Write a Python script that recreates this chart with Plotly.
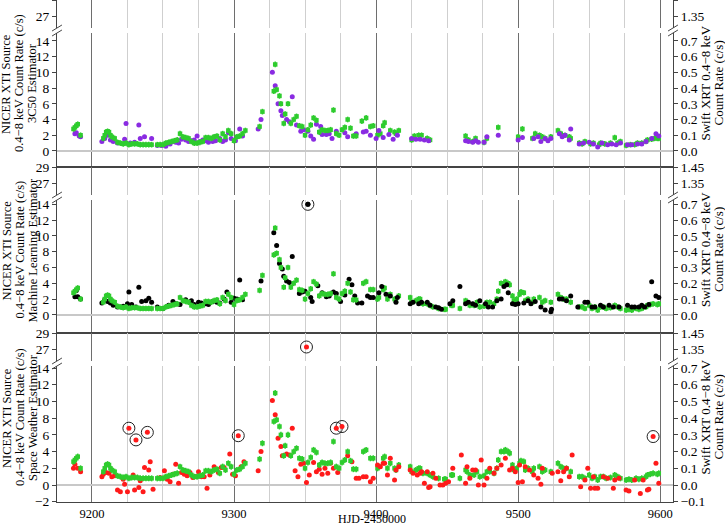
import plotly.graph_objects as go

# ---- data -----------------------------------------------------------------
# Swift XRT (green), read on the right axis (c/s); shared part before HJD 9390
swift_x = [9187, 9188, 9189, 9190, 9192, 9208, 9209, 9210, 9211, 9212, 9213, 9214, 9216, 9218, 9220,
           9222, 9224, 9226, 9228, 9230, 9232, 9234, 9236, 9238, 9240, 9242, 9246, 9248, 9250, 9252,
           9254, 9256, 9258, 9260, 9262, 9264, 9266, 9268, 9270, 9272, 9274, 9276, 9278, 9280, 9282,
           9284, 9286, 9288, 9290, 9292, 9294, 9296, 9298, 9300, 9302, 9304, 9306, 9308, 9318, 9320,
           9328, 9329, 9330, 9332, 9333, 9335, 9336, 9338, 9340, 9342, 9344, 9346, 9348, 9350, 9352,
           9354, 9356, 9358, 9360, 9362, 9364, 9366, 9368, 9370, 9372, 9374, 9376, 9378, 9380, 9382,
           9384, 9386]
swift_y = [0.14, 0.15, 0.16, 0.17, 0.10, 0.08, 0.10, 0.12, 0.125, 0.12, 0.10, 0.09, 0.08, 0.055, 0.05,
           0.045, 0.05, 0.04, 0.045, 0.045, 0.045, 0.04, 0.04, 0.04, 0.04, 0.04, 0.04, 0.04, 0.04, 0.05,
           0.055, 0.06, 0.065, 0.07, 0.11, 0.09, 0.085, 0.08, 0.06, 0.05, 0.05, 0.055, 0.06, 0.085, 0.085,
           0.08, 0.09, 0.095, 0.07, 0.11, 0.09, 0.13, 0.11, 0.065, 0.09, 0.095, 0.11, 0.13, 0.155, 0.25,
           0.38, 0.55, 0.39, 0.35, 0.30, 0.175, 0.235, 0.30, 0.175, 0.20, 0.22, 0.16, 0.155, 0.10, 0.135,
           0.165, 0.21, 0.195, 0.12, 0.135, 0.13, 0.13, 0.135, 0.26, 0.11, 0.10, 0.135, 0.15, 0.20, 0.145,
           0.095, 0.095]
# Swift after 9390, as matched in the 3C50 panel
swift_p1_x = [9390, 9393, 9396, 9398, 9401, 9403, 9405, 9406, 9410, 9413, 9414, 9416, 9425, 9427, 9430,
              9432, 9436, 9438, 9463, 9465, 9468, 9470, 9476, 9478, 9486, 9500, 9503, 9510, 9512, 9515,
              9517, 9519, 9523, 9528, 9530, 9533, 9536, 9537, 9543, 9545, 9547, 9551, 9553, 9557, 9558,
              9561, 9565, 9568, 9570, 9572, 9576, 9579, 9582, 9584, 9587, 9590, 9591, 9594, 9596, 9598, 9599]
swift_p1_y = [0.19, 0.21, 0.155, 0.16, 0.10, 0.11, 0.16, 0.18, 0.13, 0.12, 0.11, 0.13, 0.07, 0.095, 0.10,
              0.10, 0.08, 0.07, 0.095, 0.07, 0.06, 0.08, 0.055, 0.08, 0.15, 0.09, 0.14, 0.08, 0.11, 0.10,
              0.09, 0.08, 0.09, 0.13, 0.11, 0.10, 0.09, 0.08, 0.05, 0.045, 0.06, 0.045, 0.05, 0.04, 0.05,
              0.045, 0.05, 0.085, 0.05, 0.06, 0.035, 0.04, 0.04, 0.05, 0.05, 0.06, 0.07, 0.075, 0.08, 0.08, 0.08]
# Swift after 9390, as matched in the ML / space weather panels
swift_p23_x = [9391, 9393, 9396, 9398, 9401, 9402, 9405, 9406, 9408, 9410, 9413, 9414, 9416, 9424, 9425,
               9428, 9430, 9431, 9433, 9436, 9438, 9440, 9444, 9448, 9449, 9453, 9454, 9459, 9463, 9464,
               9466, 9469, 9471, 9473, 9476, 9478, 9480, 9483, 9485, 9486, 9488, 9490, 9491, 9493, 9494,
               9496, 9497, 9499, 9501, 9502, 9504, 9505, 9507, 9510, 9511, 9515, 9517, 9519, 9523, 9528,
               9530, 9532, 9534, 9537, 9543, 9545, 9547, 9550, 9552, 9554, 9556, 9558, 9560, 9562, 9565,
               9568, 9570, 9572, 9576, 9578, 9580, 9583, 9585, 9587, 9590, 9591, 9593, 9595, 9598, 9599]
swift_p23_y = [0.20, 0.21, 0.16, 0.16, 0.10, 0.11, 0.16, 0.17, 0.10, 0.13, 0.10, 0.09, 0.12, 0.11, 0.08,
               0.09, 0.10, 0.10, 0.07, 0.07, 0.06, 0.05, 0.04, 0.035, 0.035, 0.06, 0.06, 0.04, 0.09, 0.08,
               0.06, 0.06, 0.08, 0.05, 0.055, 0.08, 0.08, 0.07, 0.10, 0.15, 0.20, 0.20, 0.21, 0.20, 0.19,
               0.12, 0.09, 0.10, 0.13, 0.145, 0.14, 0.09, 0.10, 0.08, 0.10, 0.11, 0.08, 0.09, 0.08, 0.13,
               0.11, 0.10, 0.10, 0.08, 0.05, 0.05, 0.04, 0.06, 0.04, 0.05, 0.03, 0.05, 0.05, 0.04, 0.045,
               0.06, 0.05, 0.04, 0.03, 0.035, 0.03, 0.04, 0.035, 0.04, 0.05, 0.06, 0.065, 0.07, 0.065, 0.07]
swift_err = 0.018

# 3C50 estimator (purple): left part in NICER c/s, right part read on Swift axis
c50_x = [9188, 9189, 9191, 9192, 9207, 9209, 9211, 9213, 9215, 9218, 9223, 9224, 9227, 9230, 9233, 9234,
         9237, 9242, 9246, 9249, 9252, 9255, 9257, 9259, 9261, 9263, 9266, 9268, 9270, 9272, 9274, 9276,
         9278, 9280, 9282, 9285, 9287, 9290, 9292, 9294, 9296, 9298, 9301, 9304, 9306, 9317, 9319, 9327,
         9329, 9331, 9333, 9334, 9337, 9339, 9341, 9344, 9347, 9349, 9352, 9354, 9356, 9358, 9361, 9362,
         9365, 9367, 9369, 9372, 9378, 9380, 9386]
c50_y = [2.2, 2.3, 1.9, 1.8, 1.2, 1.6, 2.0, 1.4, 1.2, 1.0, 1.5, 3.5, 1.0, 1.1, 3.3, 1.6,
         1.8, 1.6, 0.7, 0.7, 0.6, 0.9, 1.2, 1.1, 1.0, 1.5, 1.4, 1.2, 1.3, 1.4, 1.9, 1.2,
         1.4, 1.3, 1.1, 1.2, 1.3, 1.6, 1.2, 1.4, 2.3, 1.6, 1.3, 2.8, 1.9, 2.8, 4.0, 10.0,
         8.3, 6.0, 5.1, 4.5, 4.0, 3.7, 6.9, 3.3, 2.5, 2.7, 2.5, 1.9, 1.5, 3.4, 3.1, 2.1,
         2.1, 2.2, 1.6, 2.5, 2.3, 1.8, 2.2]
c50_sx = [9391, 9393, 9396, 9400, 9402, 9405, 9409, 9412, 9415, 9425, 9428, 9431, 9434, 9437, 9463, 9465,
          9468, 9470, 9472, 9476, 9478, 9486, 9500, 9503, 9511, 9514, 9516, 9519, 9521, 9523, 9529, 9531,
          9533, 9536, 9537, 9543, 9546, 9550, 9553, 9556, 9559, 9563, 9566, 9569, 9572, 9577, 9580, 9584,
          9587, 9590, 9594, 9597, 9599]
c50_sy = [0.12, 0.125, 0.10, 0.08, 0.13, 0.085, 0.105, 0.075, 0.10, 0.08, 0.075, 0.075, 0.07, 0.065, 0.065, 0.06,
          0.055, 0.065, 0.055, 0.055, 0.09, 0.10, 0.07, 0.085, 0.08, 0.09, 0.06, 0.08, 0.065, 0.08, 0.11, 0.09,
          0.10, 0.07, 0.14, 0.045, 0.05, 0.055, 0.045, 0.025, 0.05, 0.04, 0.045, 0.04, 0.05, 0.04, 0.04, 0.045,
          0.045, 0.06, 0.08, 0.11, 0.095]

# machine learning estimator (black)
ml_x = [9188, 9189, 9190, 9192, 9207, 9209, 9211, 9213, 9215, 9218, 9222, 9225, 9226, 9228, 9231, 9233,
        9235, 9238, 9240, 9242, 9246, 9250, 9254, 9257, 9259, 9262, 9266, 9270, 9272, 9275, 9277, 9280,
        9282, 9285, 9288, 9290, 9293, 9295, 9298, 9300, 9302, 9304, 9306, 9319, 9328, 9330, 9332, 9334,
        9335, 9337, 9339, 9341, 9346, 9348, 9350, 9352, 9354, 9355, 9359, 9362, 9365, 9367, 9370, 9372,
        9375, 9378, 9381, 9383, 9385, 9387, 9390]
ml_y = [2.3, 3.1, 2.3, 2.0, 1.5, 1.9, 1.7, 1.5, 1.2, 1.0, 1.1, 1.4, 2.9, 1.3, 1.0, 3.5,
        1.7, 1.8, 2.1, 1.6, 1.0, 0.8, 1.2, 1.7, 1.4, 1.3, 1.9, 1.8, 1.3, 1.6, 1.5, 1.4,
        1.3, 1.7, 1.6, 1.5, 2.0, 2.9, 1.6, 2.1, 2.0, 4.4, 1.9, 4.3, 10.4, 8.8, 6.5, 5.8,
        4.9, 4.3, 4.1, 7.4, 2.7, 2.9, 3.0, 14.0, 2.2, 1.7, 3.7, 2.8, 2.3, 2.4, 2.9, 2.7,
        1.7, 2.5, 4.5, 3.8, 2.4, 1.5, 1.5]
ml_sx = [9394, 9396, 9398, 9402, 9404, 9407, 9410, 9414, 9415, 9424, 9426, 9430, 9432, 9436, 9438, 9442,
         9444, 9446, 9452, 9454, 9459, 9463, 9465, 9468, 9470, 9473, 9477, 9479, 9482, 9485, 9488, 9490,
         9492, 9493, 9496, 9498, 9500, 9504, 9507, 9509, 9512, 9516, 9519, 9523, 9523.5, 9529, 9531, 9534,
         9537, 9542, 9547, 9549, 9552, 9554, 9558, 9560, 9564, 9567, 9571, 9577, 9580, 9582, 9585, 9587,
         9589, 9592, 9594, 9597, 9599]
ml_sy = [0.12, 0.11, 0.11, 0.14, 0.18, 0.13, 0.12, 0.08, 0.11, 0.07, 0.08, 0.07, 0.08, 0.08, 0.06, 0.05,
         0.045, 0.035, 0.07, 0.09, 0.18, 0.07, 0.08, 0.07, 0.06, 0.09, 0.07, 0.05, 0.05, 0.09, 0.10, 0.18,
         0.19, 0.14, 0.07, 0.065, 0.07, 0.075, 0.09, 0.07, 0.085, 0.05, 0.03, 0.02, 0.035, 0.10, 0.10, 0.09,
         0.12, 0.05, 0.08, 0.08, 0.05, 0.05, 0.06, 0.05, 0.06, 0.05, 0.05, 0.06, 0.05, 0.05, 0.05, 0.06,
         0.05, 0.065, 0.21, 0.12, 0.11]
ml_flag_x = [9352]
ml_flag_y = [14.0]

# space weather estimator (red)
sw_x = [9187, 9188, 9190, 9192, 9207, 9208, 9210, 9212, 9214, 9216, 9218, 9220, 9222, 9223, 9225, 9229,
        9230, 9233, 9234, 9236, 9237, 9240, 9241, 9243, 9248, 9251, 9253, 9255, 9257, 9259, 9261, 9263,
        9265, 9267, 9269, 9271, 9273, 9275, 9277, 9279, 9281, 9283, 9286, 9289, 9291, 9293, 9297, 9299,
        9301, 9305, 9307, 9317, 9319, 9327, 9329, 9331, 9333, 9334, 9337, 9339, 9341, 9343, 9345, 9347,
        9349, 9351, 9353, 9356, 9358, 9360, 9362, 9364, 9366, 9368, 9370, 9373, 9380, 9383, 9386, 9388]
sw_y = [2.0, 2.5, 2.0, 1.6, 1.0, 1.3, 1.5, 1.4, 1.0, 1.1, -0.6, -0.8, 0.7, 0.1, -0.8, 1.2,
        -0.6, -0.3, 0.5, -0.8, 2.1, 1.8, 2.8, -0.5, 0.9, 1.7, 0.7, 0.4, 1.3, 2.5, 0.2, 1.5,
        1.3, 1.1, 1.5, 0.9, 1.0, 1.6, 1.0, 1.0, -0.4, 1.2, 2.2, 1.5, 2.1, 2.1, 3.7, 1.3,
        1.1, 2.2, 2.8, 1.7, 4.0, 10.1, 8.4, 5.6, 4.6, 3.5, 3.7, 3.6, 6.8, 1.7, 1.0, 2.5,
        2.6, 0.3, 1.2, 2.7, 1.6, 1.9, 1.3, 2.0, 1.4, 2.6, 2.0, 1.5, 3.5, 2.8, 0.8, 0.8]
sw_sx = [9391, 9393, 9396, 9398, 9401, 9403, 9405, 9406, 9408, 9410, 9413, 9414, 9416, 9424, 9426, 9429,
         9431, 9432, 9434, 9436, 9437, 9438, 9440, 9442, 9445, 9447, 9449, 9451, 9454, 9460, 9463, 9464,
         9466, 9468, 9470, 9472, 9474, 9476, 9478, 9480, 9483, 9485, 9488, 9491, 9494, 9496, 9498, 9500,
         9501, 9503, 9505, 9508, 9511, 9514, 9516, 9517, 9524, 9528, 9530, 9532, 9534, 9536, 9538, 9544,
         9547, 9549, 9551, 9553, 9554, 9556, 9560, 9563, 9567, 9568, 9571, 9576, 9578, 9582, 9586, 9588,
         9591, 9592, 9597, 9599]
sw_sy = [0.05, 0.05, 0.02, 0.04, 0.12, 0.11, 0.13, 0.13, 0.06, 0.16, 0.03, 0.09, 0.11, 0.09, 0.07, 0.06,
         0.07, 0.08, 0.01, 0.08, -0.015, -0.01, 0.07, 0.04, 0.0, 0.0, 0.01, 0.02, 0.10, 0.18, 0.01, 0.11,
         0.04, 0.09, 0.09, 0.0, 0.15, 0.0, 0.04, 0.10, 0.07, 0.10, 0.12, 0.16, 0.09, 0.10, 0.08, 0.015,
         0.12, 0.02, 0.11, 0.09, 0.06, 0.04, 0.005, 0.10, 0.07, 0.08, 0.025, 0.08, 0.10, 0.05, 0.18, -0.01,
         0.03, 0.10, -0.02, 0.05, -0.02, -0.02, 0.05, 0.04, -0.02, 0.03, 0.04, -0.03, -0.035, 0.03, -0.05, 0.03,
         -0.03, -0.025, 0.13, 0.01]
sw_flag_x = [9226, 9231, 9239, 9303, 9351, 9372, 9376]
sw_flag_y = [6.8, 5.4, 6.3, 5.9, 27.3, 6.8, 7.0]
sw_flag_sx = [9595]
sw_flag_sy = [0.29]

title_lines = [["NICER XTI Source", "0.4\u22128 keV Count Rate (c/s)", "3C50 Estimator"],
               ["NICER XTI Source", "0.4\u22128 keV Count Rate (c/s)", "Machine Learning Estimator"],
               ["NICER XTI Source", "0.4\u22128 keV Count Rate (c/s)", "Space Weather Estimator"]]
right_lines = ["Swift XRT 0.4\u22128 keV", "Count Rate (c/s)"]

# ---- layout ---------------------------------------------------------------
FONT = "Liberation Serif"
GREEN, PURPLE, RED = "#2ecc2e", "#8a2be2", "#ff1a1a"
H_PLOT = 502.0
W_PLOT = 616.0
def dom(a, b):
    return [1 - b / H_PLOT, 1 - a / H_PLOT]

# (upper px, lower px, lower range)
panels = [((0, 28), (33, 167), [-2.04, 15.0]),
          ((167, 195), (200, 333), [-2.3, 14.55]),
          ((333, 361), (366, 502), [-2.03, 14.24])]
UP_RANGE = [25.6, 29.0]

fig = go.Figure()
layout = dict(width=725, height=527, plot_bgcolor="white", paper_bgcolor="white",
              margin=dict(l=57, r=52, t=0, b=25, autoexpand=False), showlegend=False,
              font=dict(family=FONT, size=13.5, color="black"))
axis_common = dict(showline=True, linecolor="#444", linewidth=1, ticks="outside", ticklen=4,
                   tickcolor="#444", showgrid=False, zeroline=False, automargin=False)
shapes, annotations = [], []

for p, (up, lo, lr) in enumerate(panels):
    for k, (pix, rng) in enumerate([(up, UP_RANGE), (lo, lr)]):
        r = 2 * p + k + 1           # primary y / x index
        s = r + 6                   # secondary y index
        xs = "" if r == 1 else str(r)
        last = (p == 2 and k == 1)
        layout[f"xaxis{xs}"] = dict(anchor=f"y{xs}", domain=[0, 1], range=[9175.4, 9609],
                                    matches=None if r == 1 else "x", automargin=False,
                                    showline=True, linecolor="#444", mirror=False,
                                    side="top" if k == 0 else "bottom",
                                    showticklabels=last, ticks="", tickfont=dict(size=12.5),
                                    tickvals=[9200, 9300, 9400, 9500, 9600],
                                    showgrid=True, gridcolor="#6e6e6e", gridwidth=1,
                                    minor=dict(dtick=25, tick0=9175, showgrid=True, gridcolor="#cfcfcf"),
                                    zeroline=False)
        if k == 0:
            ltv, rtv = [27, 29], [1.35, 1.45]
        else:
            ltv = list(range(0, 15, 2)) if p < 2 else list(range(-2, 15, 2))
            rtv = [i / 10 for i in range(0, 8)] if p < 2 else [i / 10 for i in range(-1, 8)]
        layout[f"yaxis{xs}"] = dict(axis_common, domain=dom(*pix), range=rng, anchor=f"x{xs}",
                                    tickvals=ltv, zeroline=(k == 1), zerolinecolor="#c8c8c8")
        layout[f"yaxis{s}"] = dict(axis_common, domain=dom(*pix), range=[rng[0] / 20, rng[1] / 20],
                                   anchor=f"x{xs}", overlaying=f"y{xs}", side="right",
                                   tickvals=rtv, tickformat=".2f" if k == 0 else ".1f")

    # break marks
    gy0, gy1 = 1 - up[1] / H_PLOT, 1 - lo[0] / H_PLOT
    for xp in (0, 1):
        for off in (-2.5 / H_PLOT, 2.5 / H_PLOT):
            shapes.append(dict(type="line", xref="paper", yref="paper",
                               x0=xp - 0.008, x1=xp + 0.008,
                               y0=(gy0 + gy1) / 2 + off - 0.006, y1=(gy0 + gy1) / 2 + off + 0.006,
                               line=dict(color="#444", width=1)))
    # panel titles, one annotation per line for tight line spacing
    ymid = 1 - (up[0] + lo[1]) / 2 / H_PLOT
    for line, cx in zip(title_lines[p], (6.5, 19.5, 32.5)):
        annotations.append(dict(text=line, xref="paper", yref="paper", x=(cx - 57) / W_PLOT,
                                y=ymid, xanchor="center", yanchor="middle", textangle=-90,
                                showarrow=False, borderpad=0, font=dict(size=12.5)))
    for line, cx in zip(right_lines, (705, 718)):
        annotations.append(dict(text=line, xref="paper", yref="paper", x=(cx - 57) / W_PLOT,
                                y=ymid, xanchor="center", yanchor="middle", textangle=-90,
                                showarrow=False, borderpad=0, font=dict(size=13)))

annotations.append(dict(text="HJD-2450000", xref="paper", yref="paper", x=(372 - 57) / W_PLOT, y=0,
                        yshift=-25, xanchor="center", yanchor="bottom", showarrow=False, borderpad=0,
                        font=dict(size=12)))
fig.update_layout(**layout, shapes=shapes, annotations=annotations)


def add(x, y, color, size, xa, ya, symbol="circle", err=False):
    fig.add_trace(go.Scatter(x=x, y=y, mode="markers", xaxis=xa, yaxis=ya, cliponaxis=True,
                             marker=dict(color=color, size=size, symbol=symbol, line=dict(width=0)),
                             error_y=dict(type="constant", value=swift_err, color=color, thickness=1.5,
                                          width=0) if err else None))


def add_flag(x, y, color, xa, ya):
    fig.add_trace(go.Scatter(x=x, y=y, mode="markers", xaxis=xa, yaxis=ya,
                             marker=dict(color="rgba(0,0,0,0)", size=12, symbol="circle",
                                         line=dict(color="#222", width=1))))
    add(x, y, color, 5, xa, ya)


series = [
    (c50_x, c50_y, c50_sx, c50_sy, PURPLE, swift_p1_x, swift_p1_y, [], [], [], []),
    (ml_x, ml_y, ml_sx, ml_sy, "black", swift_p23_x, swift_p23_y, ml_flag_x, ml_flag_y, [], []),
    (sw_x, sw_y, sw_sx, sw_sy, RED, swift_p23_x, swift_p23_y, sw_flag_x, sw_flag_y, sw_flag_sx, sw_flag_sy),
]
for p, (nx, ny, nsx, nsy, col, gx, gy, fx, fy, fsx, fsy) in enumerate(series):
    for k in range(2):
        r = 2 * p + k + 1
        xs = "" if r == 1 else str(r)
        xa, ya, yb = f"x{xs}", f"y{xs}", f"y{r + 6}"
        add(swift_x, swift_y, GREEN, 4.5, xa, yb, "square", err=True)
        add(gx, gy, GREEN, 4.5, xa, yb, "square", err=True)
        add(nx, ny, col, 5, xa, ya)
        add(nsx, nsy, col, 5, xa, yb)
        if fx:
            add_flag(fx, fy, col, xa, ya)
        if fsx:
            add_flag(fsx, fsy, col, xa, yb)

# the page body's default 8px margin would shift the whole figure
fig.write_html("out.html", config={"displayModeBar": False},
               post_script="document.body.style.margin='0';")
